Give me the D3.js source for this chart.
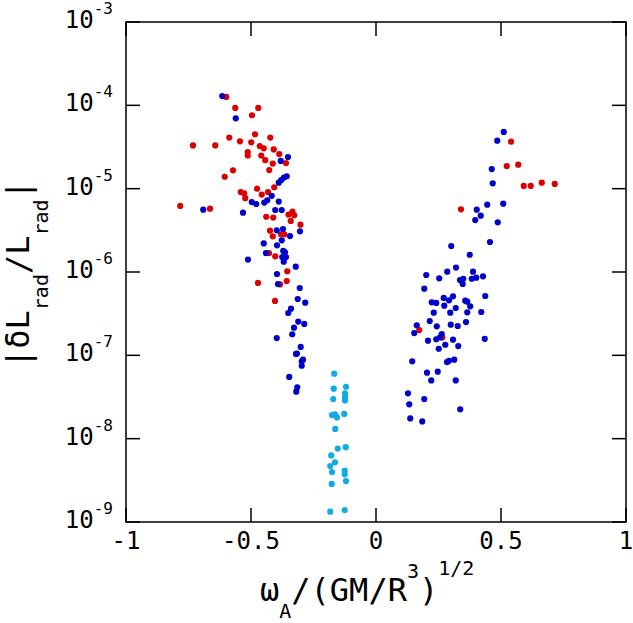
<!DOCTYPE html>
<html>
<head>
<meta charset="utf-8">
<script src="https://cdn.jsdelivr.net/npm/d3@7"></script>
<style>
  html, body { margin: 0; padding: 0; background: #fff; }
  svg { display: block; }
  text { font-family: "DejaVu Sans Mono", monospace; fill: #000; }
</style>
</head>
<body>
<script>
// ---- data ----
const xTicks = [-1, -0.5, 0, 0.5, 1];
const xTickLabels = ["-1", "-0.5", "0", "0.5", "1"];
const yTickExponents = [-3, -4, -5, -6, -7, -8, -9];

const redPoints = [
  [-0.599,1.26e-4],[-0.563,9.3e-5],[-0.471,9.3e-5],[-0.496,7.6e-5],[-0.484,4.5e-5],
  [-0.423,4.1e-5],[-0.587,4.1e-5],[-0.732,3.3e-5],[-0.643,3.3e-5],[-0.544,3.7e-5],
  [-0.499,3.6e-5],[-0.513,2.75e-5],[-0.513,2.5e-5],[-0.465,3.25e-5],[-0.449,3.05e-5],
  [-0.409,2.96e-5],[-0.387,2.6e-5],[-0.360,2.03e-5],[-0.413,2.0e-5],[-0.459,2.5e-5],
  [-0.443,2.2e-5],[-0.572,1.66e-5],[-0.427,1.67e-5],[-0.605,1.39e-5],[-0.407,1.04e-5],
  [-0.476,1.0e-5],[-0.541,9.1e-6],[-0.527,8.8e-6],[-0.432,9.1e-6],[-0.457,8.5e-6],
  [-0.523,7.7e-6],[-0.783,6.2e-6],[-0.664,5.75e-6],[-0.334,5.3e-6],[-0.350,4.9e-6],
  [-0.327,4.8e-6],[-0.439,4.6e-6],[-0.411,4.5e-6],[-0.341,4.1e-6],[-0.302,3.7e-6],
  [-0.424,3.13e-6],[-0.413,2.68e-6],[-0.380,2.83e-6],[-0.367,2.83e-6],[-0.428,1.68e-6],
  [-0.403,1.54e-6],[-0.355,1.02e-6],[-0.472,7.4e-7],[-0.357,7.8e-7],[-0.384,7.1e-7],
  [-0.404,4.5e-7],
  [0.540,3.66e-5],[0.523,1.87e-5],[0.569,1.94e-5],[0.591,1.08e-5],[0.619,1.08e-5],
  [0.663,1.18e-5],[0.715,1.14e-5],[0.340,5.65e-6],[0.173,2.01e-7],[0.265,1.64e-7]
];

const bluePoints = [
  [-0.615,1.29e-4],[-0.561,6.98e-5],[-0.352,2.4e-5],[-0.381,2.15e-5],[-0.357,1.41e-5],
  [-0.368,1.36e-5],[-0.379,1.27e-5],[-0.389,1.18e-5],[-0.417,8.2e-6],[-0.435,7.25e-6],
  [-0.447,6.8e-6],[-0.389,7.0e-6],[-0.497,6.9e-6],[-0.479,6.55e-6],[-0.691,5.6e-6],
  [-0.403,5.55e-6],[-0.377,5.55e-6],[-0.532,5.15e-6],[-0.372,3.28e-6],[-0.397,3.16e-6],
  [-0.304,3.08e-6],[-0.344,2.7e-6],[-0.377,2.4e-6],[-0.449,2.2e-6],[-0.396,2.09e-6],
  [-0.440,1.68e-6],[-0.371,1.79e-6],[-0.364,1.72e-6],[-0.375,1.51e-6],[-0.360,1.51e-6],
  [-0.369,1.33e-6],[-0.512,1.41e-6],[-0.321,1.16e-6],[-0.396,9.46e-7],[-0.392,7.18e-7],
  [-0.305,6.43e-7],[-0.313,4.74e-7],[-0.283,4.29e-7],[-0.340,3.63e-7],[-0.351,3.22e-7],
  [-0.311,2.54e-7],[-0.287,2.38e-7],[-0.328,2.15e-7],[-0.335,1.79e-7],[-0.397,1.61e-7],
  [-0.301,1.26e-7],[-0.320,1.04e-7],[-0.316,1.05e-7],[-0.292,8.87e-8],[-0.297,8.48e-8],
  [-0.297,7.5e-8],[-0.347,5.5e-8],[-0.315,4.13e-8],[-0.319,3.66e-8],
  [0.511,4.79e-5],[0.485,3.77e-5],[0.463,1.72e-5],[0.467,1.16e-5],[0.403,5.6e-6],
  [0.445,6.43e-6],[0.509,6.6e-6],[0.419,4.74e-6],[0.397,4.2e-6],[0.487,3.95e-6],
  [0.456,2.29e-6],[0.301,2.05e-6],[0.375,1.61e-6],[0.320,1.13e-6],[0.201,9.2e-7],
  [0.253,8.4e-7],[0.285,1.01e-6],[0.388,1.01e-6],[0.336,8.0e-7],[0.349,8.3e-7],
  [0.347,7.18e-7],[0.383,8.3e-7],[0.401,8.55e-7],[0.428,8.87e-7],[0.193,6.3e-7],
  [0.437,5.15e-7],[0.271,4.88e-7],[0.292,4.57e-7],[0.308,5.1e-7],[0.223,4.33e-7],
  [0.241,4.25e-7],[0.273,3.94e-7],[0.357,4.53e-7],[0.365,4.4e-7],[0.377,3.87e-7],
  [0.319,3.7e-7],[0.231,3.25e-7],[0.297,3.25e-7],[0.365,3.28e-7],[0.421,3.31e-7],
  [0.215,2.58e-7],[0.360,2.51e-7],[0.299,2.33e-7],[0.327,2.25e-7],[0.243,2.23e-7],
  [0.163,2.29e-7],[0.153,1.85e-7],[0.263,1.8e-7],[0.256,1.64e-7],[0.241,1.56e-7],
  [0.208,1.5e-7],[0.308,1.54e-7],[0.435,1.58e-7],[0.277,1.34e-7],[0.329,1.29e-7],
  [0.251,1.2e-7],[0.145,8.48e-8],[0.284,8.3e-8],[0.292,8.6e-8],[0.313,8.87e-8],
  [0.204,6.2e-8],[0.247,6.37e-8],[0.221,5.0e-8],[0.319,5.0e-8],[0.128,3.5e-8],
  [0.133,2.58e-8],[0.193,2.99e-8],[0.337,2.25e-8],[0.137,1.75e-8],[0.185,1.61e-8]
];

const cyanPoints = [
  [-0.167,6.03e-8],[-0.169,3.98e-8],[-0.120,4.2e-8],[-0.171,2.99e-8],[-0.124,3.5e-8],
  [-0.124,3.13e-8],[-0.124,2.88e-8],[-0.176,1.92e-8],[-0.164,1.96e-8],[-0.156,1.8e-8],
  [-0.127,1.98e-8],[-0.163,1.31e-8],[-0.153,7.6e-9],[-0.121,7.9e-9],[-0.179,6.3e-9],
  [-0.164,5.2e-9],[-0.183,4.7e-9],[-0.176,3.98e-9],[-0.125,4.13e-9],[-0.125,3.73e-9],
  [-0.120,3.1e-9],[-0.177,2.86e-9],[-0.183,1.33e-9],[-0.125,1.39e-9]
];

const seriesColors = { red: "#dd0000", blue: "#0000cc", cyan: "#10aae4" };

// ---- layout ----
const W = 633, H = 623;
const plot = { left: 126, right: 626, top: 22, bottom: 522 };

const svg = d3.select("body").append("svg").attr("width", W).attr("height", H);

const x = d3.scaleLinear().domain([-1, 1]).range([plot.left, plot.right]);
const y = d3.scaleLog().domain([1e-9, 1e-3]).range([plot.bottom, plot.top]);

// points
const dots = svg.append("g");
function drawSeries(data, color) {
  dots.selectAll(null).data(data).enter().append("circle")
    .attr("cx", d => x(d[0])).attr("cy", d => y(d[1]))
    .attr("r", 3.1).attr("fill", color);
}
drawSeries(redPoints, seriesColors.red);
drawSeries(bluePoints, seriesColors.blue);
drawSeries(cyanPoints, seriesColors.cyan);

// frame
const tickLen = 14;
const axes = svg.append("g").attr("stroke", "#000").attr("stroke-width", 1.5).attr("fill", "none");
axes.append("rect").attr("x", plot.left).attr("y", plot.top)
  .attr("width", plot.right - plot.left).attr("height", plot.bottom - plot.top);

xTicks.forEach(t => {
  axes.append("line").attr("x1", x(t)).attr("x2", x(t)).attr("y1", plot.bottom).attr("y2", plot.bottom - tickLen);
  axes.append("line").attr("x1", x(t)).attr("x2", x(t)).attr("y1", plot.top).attr("y2", plot.top + tickLen);
});
yTickExponents.forEach(e => {
  const v = Math.pow(10, e);
  axes.append("line").attr("x1", plot.left).attr("x2", plot.left + tickLen).attr("y1", y(v)).attr("y2", y(v));
  axes.append("line").attr("x1", plot.right).attr("x2", plot.right - tickLen).attr("y1", y(v)).attr("y2", y(v));
});

// x tick labels
svg.append("g").selectAll("text").data(xTicks).enter().append("text")
  .attr("x", d => x(d)).attr("y", plot.bottom + 27)
  .attr("text-anchor", "middle").attr("font-size", 24)
  .text((d, i) => xTickLabels[i]);

// y tick labels: 10^e
yTickExponents.forEach(e => {
  const v = Math.pow(10, e);
  const t = svg.append("text").attr("x", 113).attr("y", y(v) + 6)
    .attr("text-anchor", "end").attr("font-size", 24);
  t.append("tspan").text("10");
  t.append("tspan").attr("font-size", 16).attr("dy", -14).text(String(e));
});

// x axis label
const xl = svg.append("text").attr("x", 260).attr("y", 601).attr("font-size", 32);
xl.append("tspan").text("ω");
xl.append("tspan").attr("font-size", 20).attr("dy", 17).text("A");
xl.append("tspan").attr("dy", -17).text("/(GM/R");
xl.append("tspan").attr("font-size", 20).attr("dy", -23).text("3");
xl.append("tspan").attr("dy", 23).text(")");
xl.append("tspan").attr("font-size", 20).attr("dy", -26).text("1/2");

// y axis label
const yl = svg.append("text").attr("transform", "translate(29,368) rotate(-90)").attr("font-size", 32);
yl.append("tspan").text("|δL");
yl.append("tspan").attr("font-size", 20).attr("dy", 19).text("rad");
yl.append("tspan").attr("dy", -19).text("/L");
yl.append("tspan").attr("font-size", 20).attr("dy", 19).text("rad");
yl.append("tspan").attr("dy", -19).text("|");
</script>
</body>
</html>
